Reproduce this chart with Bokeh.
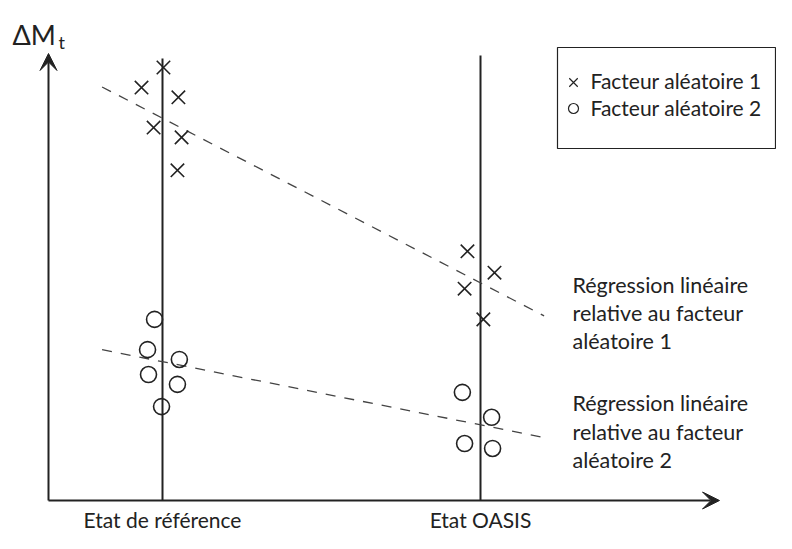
from bokeh.plotting import figure
from bokeh.models import Arrow, VeeHead
from bokeh.embed import file_html
from bokeh.resources import INLINE
from bokeh.core.properties import value

# ---------------- data (abstract units) ----------------
# x: state index (0 = reference state, 1 = OASIS state) plus small spread
# y: ΔM_t in arbitrary units
states = ["Etat de référence", "Etat OASIS"]
state_pos = [0.0, 1.0]
state_top = [9.93, 10.0]

f1_x = [-0.066, 0.003, 0.050, -0.028, 0.060, 0.047, 0.959, 1.044, 0.950, 1.009]
f1_y = [9.28, 9.73, 9.06, 8.38, 8.16, 7.42, 5.60, 5.12, 4.76, 4.07]

f2_x = [-0.025, -0.047, 0.053, -0.044, 0.047, -0.003, 0.943, 1.035, 0.950, 1.038]
f2_y = [4.07, 3.39, 3.17, 2.83, 2.61, 2.11, 2.43, 1.87, 1.28, 1.17]

reg_x = [-0.19, 1.20]
reg1_intercept, reg1_slope = 8.59, -3.70
reg2_intercept, reg2_slope = 3.12, -1.42

legend_labels = ["Facteur aléatoire 1", "Facteur aléatoire 2"]
reg1_label = ["Régression linéaire", "relative au facteur", "aléatoire 1"]
reg2_label = ["Régression linéaire", "relative au facteur", "aléatoire 2"]

# ---------------- layout helpers ----------------
W, H = 776, 533
X0, XS = 162.0, 318.0   # screen px of x=0, px per unit
Y0, YS = 500.0, 44.5    # screen px of y=0, px per unit


def dx(sx):
    return (sx - X0) / XS


def dy(sy):
    return (Y0 - sy) / YS


INK = "#222222"
FONT = value("Lato")

p = figure(width=W, height=H, output_backend="svg", toolbar_location=None,
           x_range=(dx(0), dx(W)), y_range=(dy(H), dy(0)),
           x_axis_type=None, y_axis_type=None, min_border=0)
p.outline_line_color = None
p.grid.visible = False
p.background_fill_color = "white"
p.border_fill_color = "white"

# axes with arrows
ax_x = dx(48)
p.add_layout(Arrow(x_start=ax_x, y_start=0, x_end=ax_x, y_end=dy(53),
                   line_color=INK, line_width=2,
                   end=VeeHead(size=17, fill_color=INK, line_color=INK, line_width=1)))
p.add_layout(Arrow(x_start=ax_x, y_start=0, x_end=dx(719), y_end=0,
                   line_color=INK, line_width=2,
                   end=VeeHead(size=17, fill_color=INK, line_color=INK, line_width=1)))

# state vertical lines
p.segment(x0=state_pos, y0=[0, 0], x1=state_pos, y1=state_top,
          line_color=INK, line_width=2)

# regression lines
reg1_y = [reg1_intercept + reg1_slope * x for x in reg_x]
reg2_y = [reg2_intercept + reg2_slope * x for x in reg_x]
p.line(reg_x, reg1_y, line_color="#444444", line_width=1.3, line_dash="10 9")
p.line(reg_x, reg2_y, line_color="#444444", line_width=1.3, line_dash="10 9")

# points
p.scatter(f1_x, f1_y, marker="x", size=19, line_color=INK, line_width=1.6)
p.scatter(f2_x, f2_y, marker="circle", size=16, fill_color=None,
          line_color=INK, line_width=1.6)

# y-axis title ΔM_t
p.text(x=[dx(12)], y=[dy(34)], text=["ΔM"], text_font=FONT, text_font_size="27px",
       text_color=INK, text_align="left", text_baseline="alphabetic")
p.text(x=[dx(58)], y=[dy(41)], text=["t"], text_font=FONT, text_font_size="18px",
       text_color=INK, text_align="left", text_baseline="alphabetic")

# state labels
p.text(x=state_pos, y=[dy(519)] * 2, text=states, text_font=FONT,
       text_font_size="21px", text_color=INK, text_align="center",
       text_baseline="middle")

# regression labels
p.text(x=[dx(572)] * 3, y=[dy(284), dy(312), dy(340)], text=reg1_label,
       text_font=FONT, text_font_size="21.5px", text_color=INK,
       text_align="left", text_baseline="middle")
p.text(x=[dx(572)] * 3, y=[dy(402), dy(431), dy(459)], text=reg2_label,
       text_font=FONT, text_font_size="21.5px", text_color=INK,
       text_align="left", text_baseline="middle")

# legend box
p.quad(left=[dx(557)], right=[dx(775)], top=[dy(47)], bottom=[dy(148)],
       fill_color="white", line_color=INK, line_width=1.2)
p.scatter([dx(573)], [dy(82)], marker="x", size=12, line_color=INK, line_width=1.2)
p.scatter([dx(573)], [dy(108)], marker="circle", size=10, fill_color=None,
          line_color=INK, line_width=1.2)
p.text(x=[dx(590)] * 2, y=[dy(80), dy(107)], text=legend_labels, text_font=FONT,
       text_font_size="21px", text_color=INK, text_align="left",
       text_baseline="middle")

open("out.html", "w").write(file_html(p, INLINE))
